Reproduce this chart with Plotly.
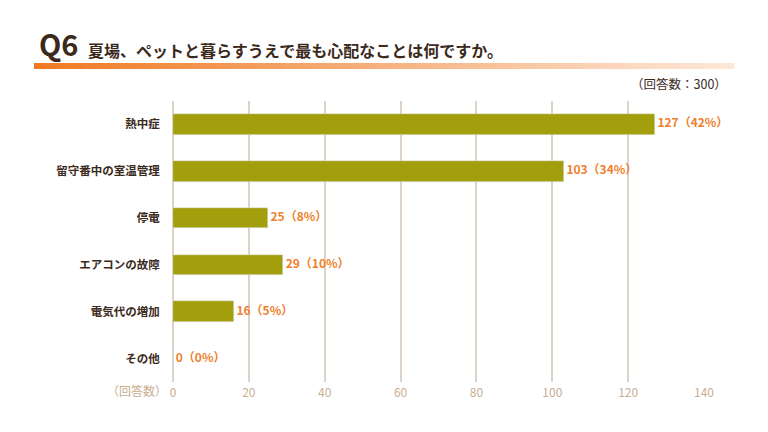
import plotly.graph_objects as go

# --- datos ---
categorias = ["熱中症", "留守番中の室温管理", "停電", "エアコンの故障", "電気代の増加", "その他"]
respuestas = [127, 103, 25, 29, 16, 0]
porcentajes = [42, 34, 8, 10, 5, 0]
ticks_x = [0, 20, 40, 60, 80, 100, 120, 140]

W, H = 768, 432
L, R, T, B = 173, 64, 101, 50  # margenes en px

OLIVA = "#A39E0B"
NARANJA = "#F07F2C"
MARRON = "#3B2A1C"
BEIGE = "#C9AE92"
REJILLA = "#DCD2C8"
FUENTE = "Noto Sans CJK JP"

etiquetas = [f"\u00a0{v}（{p}%）" for v, p in zip(respuestas, porcentajes)]


def px_a_paper(x, y):
    # convierte coordenadas de pixel a coordenadas paper
    ancho = W - L - R
    alto = H - T - B
    return (x - L) / ancho, (H - B - y) / alto


fig = go.Figure()

fig.add_trace(go.Bar(
    x=respuestas,
    y=categorias,
    orientation="h",
    marker_color=OLIVA,
    width=0.44,
    hoverinfo="skip",
))

fig.add_trace(go.Scatter(
    x=respuestas,
    y=categorias,
    mode="text",
    text=etiquetas,
    textposition="middle right",
    textfont=dict(color=NARANJA, size=12, family=FUENTE, weight="bold"),
    cliponaxis=False,
    hoverinfo="skip",
))

# --- barra degradada bajo el titulo ---
x0, x1 = 34, 734
n = 70
c_ini = (240, 122, 36)
c_fin = (253, 232, 216)
for i in range(n):
    t = i / (n - 1)
    col = tuple(round(a + (b - a) * t) for a, b in zip(c_ini, c_fin))
    xa = x0 + (x1 - x0) * i / n
    xb = x0 + (x1 - x0) * (i + 1) / n + 0.5
    pa, ya = px_a_paper(xa, 69)
    pb, yb = px_a_paper(xb, 63)
    fig.add_shape(type="rect", xref="paper", yref="paper",
                  x0=pa, x1=pb, y0=ya, y1=yb,
                  fillcolor=f"rgb{col}", line_width=0, layer="below")

# --- textos ---
qx, qy = px_a_paper(37, 66)
fig.add_annotation(x=qx, y=qy, xref="paper", yref="paper", text="<b>Q6</b>",
                   showarrow=False, xanchor="left", yanchor="bottom",
                   font=dict(size=29, color=MARRON, family=FUENTE))
tx, ty = px_a_paper(86, 64)
fig.add_annotation(x=tx, y=ty, xref="paper", yref="paper",
                   text="<b>夏場、ペットと暮らすうえで最も心配なことは何ですか。</b>",
                   showarrow=False, xanchor="left", yanchor="bottom",
                   font=dict(size=16, color=MARRON, family=FUENTE))
nx, ny = px_a_paper(729, 83)
fig.add_annotation(x=nx, y=ny, xref="paper", yref="paper", text="（回答数：300）",
                   showarrow=False, xanchor="right", yanchor="middle",
                   font=dict(size=12.5, color=MARRON, family=FUENTE))
ax, ay = px_a_paper(169, 390)
fig.add_annotation(x=ax, y=ay, xref="paper", yref="paper", text="（回答数）",
                   showarrow=False, xanchor="right", yanchor="middle",
                   font=dict(size=12, color=BEIGE, family=FUENTE))

fig.update_layout(
    width=W, height=H,
    margin=dict(l=L, r=R, t=T, b=B, pad=0),
    paper_bgcolor="white",
    plot_bgcolor="white",
    showlegend=False,
    bargap=0,
    font=dict(family=FUENTE),
)
fig.update_xaxes(
    range=[0, 140],
    tickvals=ticks_x,
    showgrid=True, gridcolor=REJILLA, gridwidth=2,
    zeroline=True, zerolinecolor=REJILLA, zerolinewidth=2,
    showline=False,
    ticks="outside", ticklen=0, tickcolor="rgba(0,0,0,0)",
    tickfont=dict(size=12, color=BEIGE),
)
fig.update_yaxes(
    autorange="reversed",
    showgrid=False, zeroline=False, showline=False,
    ticks="outside", ticklen=10, tickcolor="rgba(0,0,0,0)",
    tickfont=dict(size=11.5, color=MARRON, weight="bold"),
)

# quitar el margen del body para que el grafico quede en (0, 0)
fig.write_html("out.html", config={"displayModeBar": False},
               post_script="document.body.style.margin='0';")
